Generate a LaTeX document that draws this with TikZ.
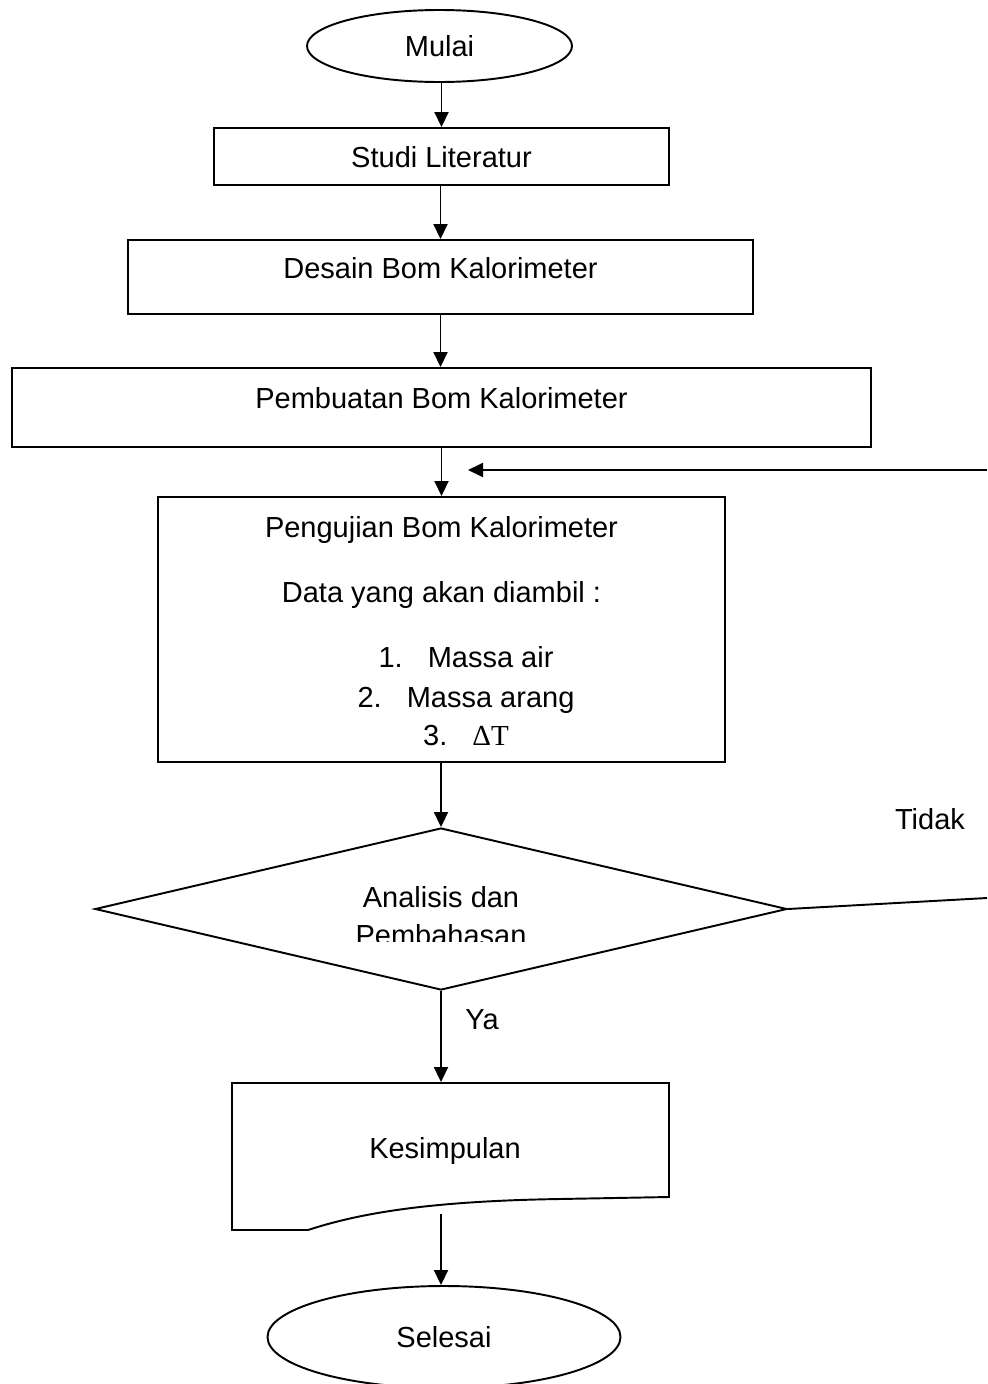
\documentclass[tikz,border=0pt]{standalone}
\usepackage{fontspec}
\setmainfont{Liberation Sans}
\newfontfamily\deltafont{Liberation Serif}
\usepackage{tikz}
\usetikzlibrary{arrows.meta,shapes,positioning}

\begin{document}
\begin{tikzpicture}[
        line width=1.1pt,
        every node/.style={font=\fontsize{16.5}{19.8}\selectfont, text height=12pt, text depth=0pt},
        box/.style={draw, rectangle, inner sep=0pt},
        term/.style={draw, ellipse, inner sep=0pt},
        decide/.style={draw, diamond, inner sep=0pt},
        arr/.style={-{Triangle[length=0.3cm,width=0.28cm]}}
    ]
        \useasboundingbox (0,0) rectangle (19.74,-27.68);

        % Start
        \node[term, minimum width=5.3cm, minimum height=1.44cm] (mulai) at (8.79,-0.92) {Mulai};

        % Process steps
        \node[box, minimum width=9.1cm, minimum height=1.14cm] (studi) at (8.83,-3.13) {Studi Literatur};
        \node[box, minimum width=12.5cm, minimum height=1.48cm,
              label={[yshift=0.18cm]center:Desain Bom Kalorimeter}] (desain) at (8.81,-5.54) {};
        \node[box, minimum width=17.18cm, minimum height=1.58cm,
              label={[yshift=0.19cm]center:Pembuatan Bom Kalorimeter}] (buat) at (8.83,-8.15) {};

        % Testing box with its data list
        \node[box, minimum width=11.34cm, minimum height=5.3cm] (uji) at (8.83,-12.59) {};
        \node (ujiT) at (8.83,-10.54) {Pengujian Bom Kalorimeter};
        \node (ujiD) at (8.83,-11.84) {Data yang akan diambil :};
        \node (item1) at (9.32,-13.14) {1.\hspace{0.5cm}Massa air};
        \node (item2) at (9.32,-13.94) {2.\hspace{0.5cm}Massa arang};
        \node (item3) at (9.32,-14.70) {3.\hspace{0.5cm}{\deltafont ΔT}};

        % Decision
        \node[decide, minimum width=13.84cm, minimum height=3.24cm] (dia) at (8.82,-18.18) {};
        \begin{scope}
            \clip (0,0) rectangle (19.74,-18.82);
            \node[anchor=base] (diaA) at (8.82,-18.14) {Analisis dan};
            \node[anchor=base] (diaB) at (8.82,-18.9) {Pembahasan};
        \end{scope}
        \node (tidak) at (18.6,-16.38) {Tidak};
        \node (ya) at (9.64,-20.38) {Ya};

        % Conclusion (document shape)
        \draw (4.64,-21.66) -- (13.38,-21.66) -- (13.38,-23.94) -- (11.2,-23.98)
            .. controls (8.6,-24.02) and (7.2,-24.26) .. (6.16,-24.6) -- (4.64,-24.6) -- cycle;
        \node[minimum height=2.6cm] (kes) at (8.9,-22.96) {Kesimpulan};

        % End
        \node[term, minimum width=7.06cm, minimum height=2.04cm] (sel) at (8.88,-26.74) {Selesai};

        % Connect nodes
        \draw[arr] (mulai.south -| studi) -- (studi.north);
        \draw[arr] (studi.south -| desain) -- (desain.north);
        \draw[arr] (desain.south) -- (desain.south |- buat.north);
        \draw[arr] (buat.south) -- (buat.south |- uji.north);
        \draw[arr] (uji.south -| dia) -- (dia.north);
        \draw[arr] (dia.south) -- (dia.south |- kes.north);
        \draw[arr] (kes.south -| dia) -- (dia |- sel.north);

        % Loop back (Tidak)
        \coordinate (noOut) at (19.74,-17.96);
        \coordinate (fbIn) at (19.74,-9.4);
        \coordinate (fbTip) at (9.36,-9.4);
        \draw (dia.east) -- (noOut);
        \draw[arr] (fbIn) -- (fbTip);
    \end{tikzpicture}
\end{document}
